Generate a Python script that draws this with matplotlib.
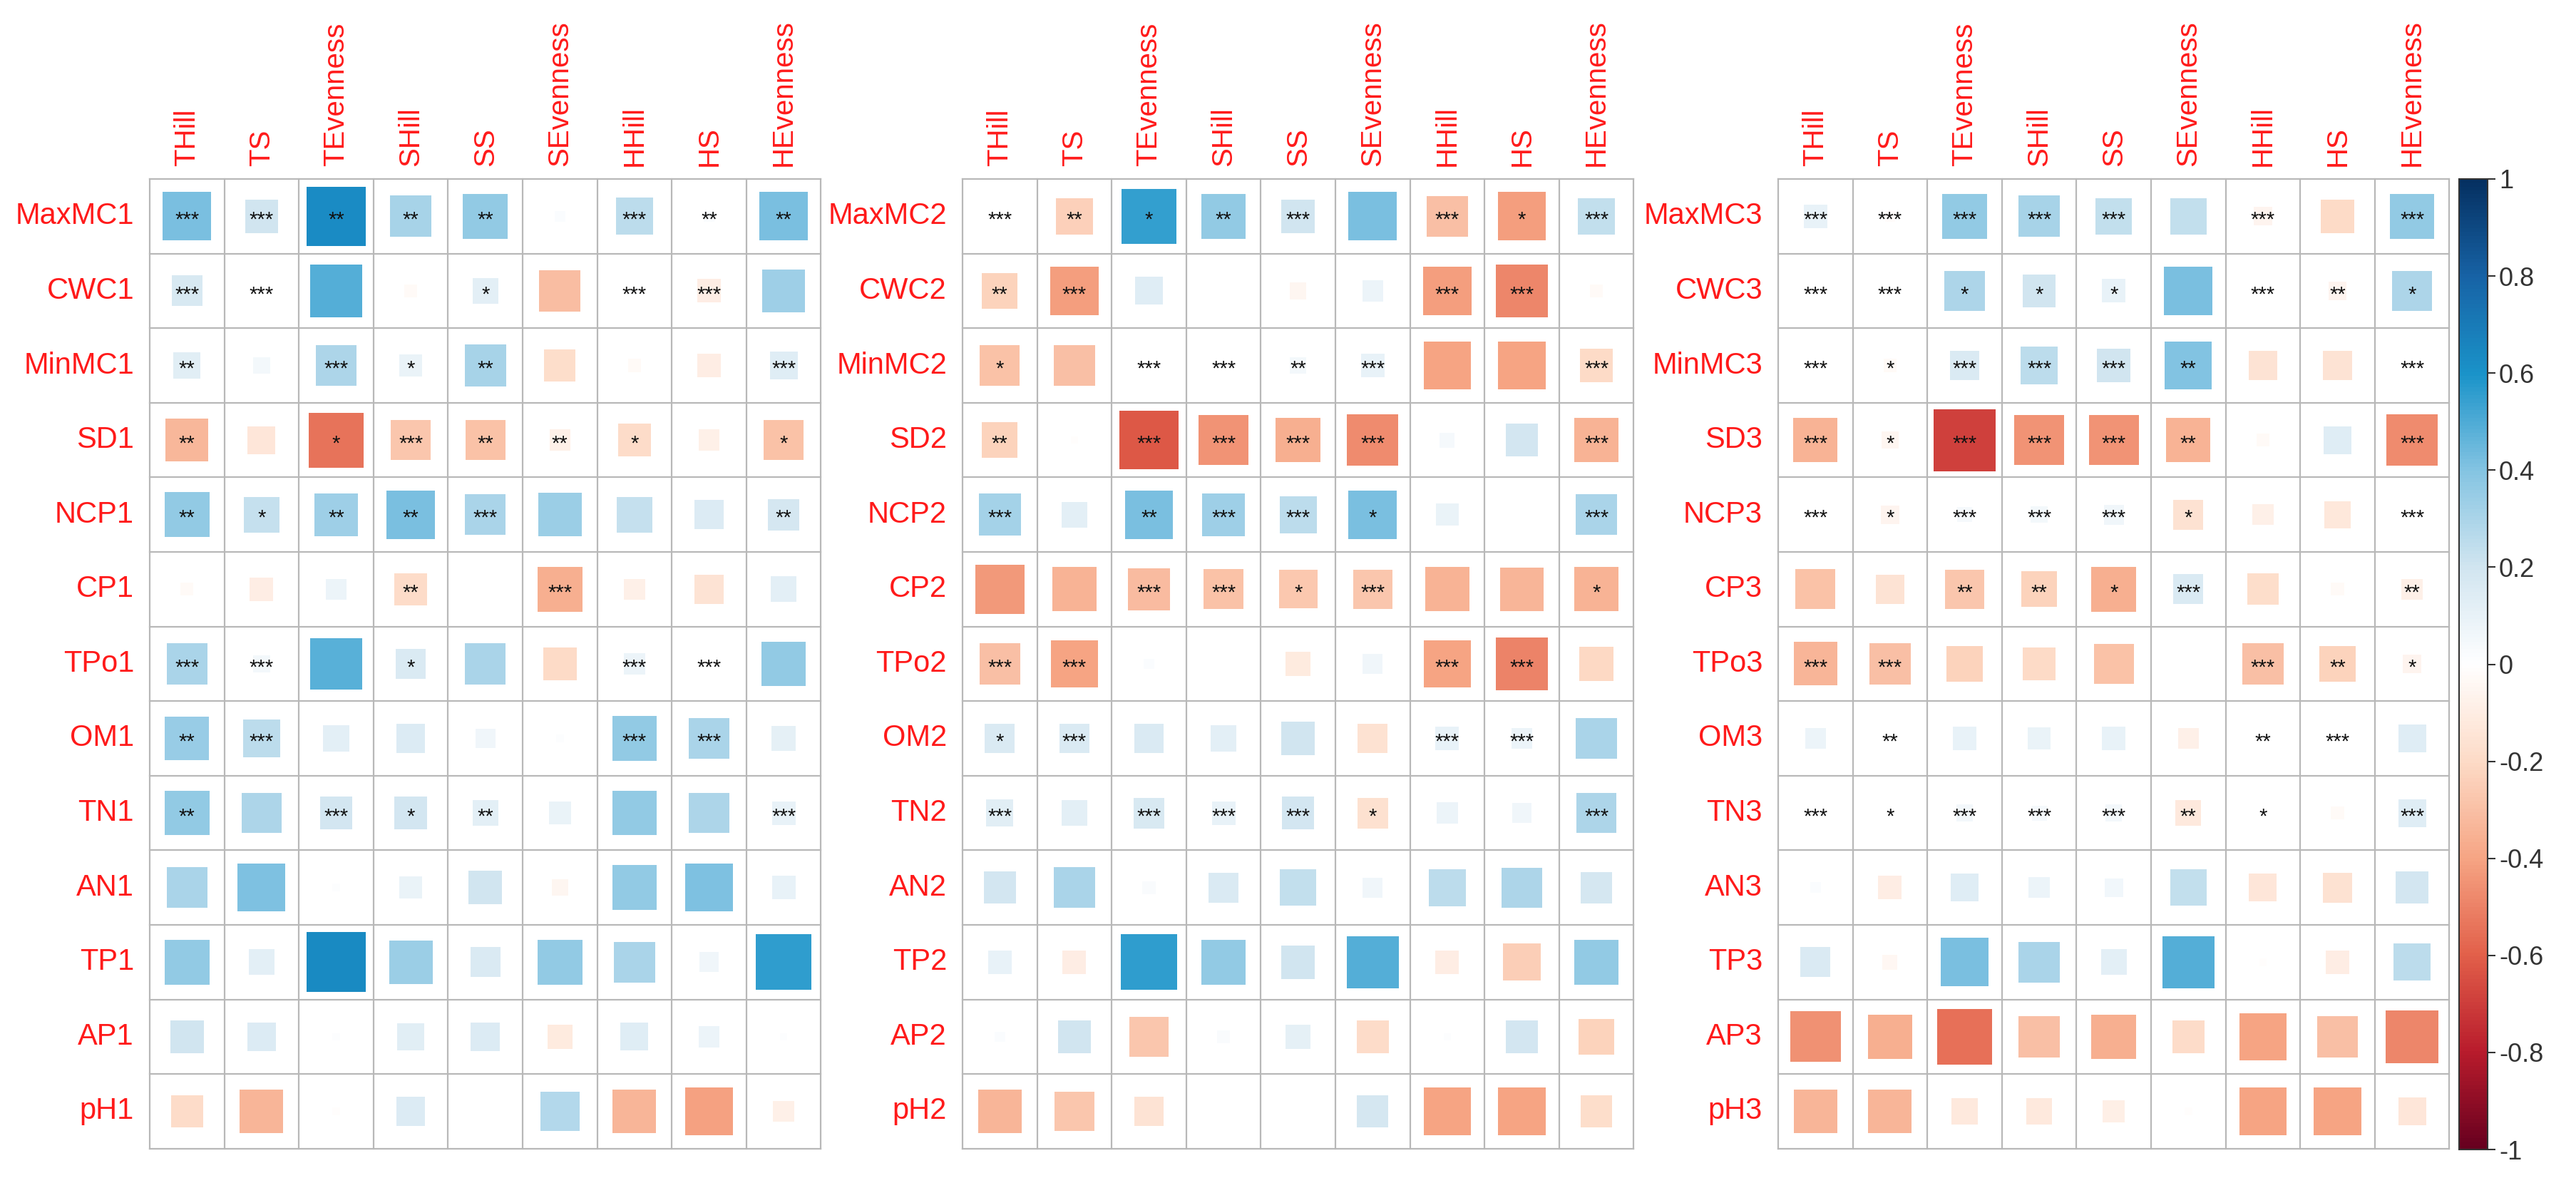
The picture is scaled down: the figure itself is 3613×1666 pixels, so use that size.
import matplotlib
matplotlib.use("Agg")
import matplotlib.pyplot as plt
import numpy as np
from matplotlib.colors import LinearSegmentedColormap, Normalize
from matplotlib.patches import Rectangle
import matplotlib.colorbar as mcolorbar

plt.rcParams['font.family'] = ['Liberation Sans', 'DejaVu Sans']

cols = ["THill", "TS", "TEvenness", "SHill", "SS", "SEvenness", "HHill", "HS", "HEvenness"]
rows_base = ["MaxMC", "CWC", "MinMC", "SD", "NCP", "CP", "TPo", "OM", "TN", "AN", "TP", "AP", "pH"]

# correlation values, period 1
r1 = [
    [0.42, 0.20, 0.63, 0.31, 0.36, 0.02, 0.25, 0.02, 0.42],
    [0.17, 0.00, 0.49, -0.03, 0.12, -0.31, 0.01, -0.10, 0.33],
    [0.13, 0.05, 0.29, 0.09, 0.31, -0.18, -0.03, -0.10, 0.14],
    [-0.33, -0.14, -0.54, -0.28, -0.29, -0.08, -0.19, -0.08, -0.29],
    [0.36, 0.23, 0.33, 0.42, 0.30, 0.34, 0.23, 0.15, 0.18],
    [-0.03, -0.10, 0.08, -0.19, 0.00, -0.36, -0.08, -0.15, 0.12],
    [0.30, 0.05, 0.48, 0.16, 0.30, -0.20, 0.08, 0.00, 0.36],
    [0.35, 0.25, 0.12, 0.15, 0.07, 0.01, 0.36, 0.30, 0.11],
    [0.36, 0.29, 0.19, 0.19, 0.12, 0.09, 0.36, 0.29, 0.10],
    [0.30, 0.41, 0.01, 0.09, 0.20, -0.05, 0.36, 0.41, 0.10],
    [0.36, 0.12, 0.64, 0.34, 0.16, 0.36, 0.30, 0.07, 0.56],
    [0.20, 0.15, 0.01, 0.13, 0.15, -0.11, 0.14, 0.08, 0.01],
    [-0.19, -0.34, -0.01, 0.15, 0.00, 0.28, -0.34, -0.41, -0.08],
]
sig1 = [
    ["***", "***", "**", "**", "**", "", "***", "**", "**"],
    ["***", "***", "", "", "*", "", "***", "***", ""],
    ["**", "", "***", "*", "**", "", "", "", "***"],
    ["**", "", "*", "***", "**", "**", "*", "", "*"],
    ["**", "*", "**", "**", "***", "", "", "", "**"],
    ["", "", "", "**", "", "***", "", "", ""],
    ["***", "***", "", "*", "", "", "***", "***", ""],
    ["**", "***", "", "", "", "", "***", "***", ""],
    ["**", "", "***", "*", "**", "", "", "", "***"],
    ["", "", "", "", "", "", "", "", ""],
    ["", "", "", "", "", "", "", "", ""],
    ["", "", "", "", "", "", "", "", ""],
    ["", "", "", "", "", "", "", "", ""],
]

# period 2
r2 = [
    [0.00, -0.24, 0.55, 0.36, 0.20, 0.42, -0.30, -0.42, 0.24],
    [-0.23, -0.42, 0.14, 0.00, -0.05, 0.08, -0.42, -0.49, -0.03],
    [-0.29, -0.30, 0.00, 0.00, 0.05, 0.10, -0.40, -0.40, -0.20],
    [-0.23, -0.01, -0.62, -0.45, -0.36, -0.47, 0.04, 0.19, -0.35],
    [0.32, 0.12, 0.42, 0.33, 0.25, 0.42, 0.09, 0.00, 0.30],
    [-0.43, -0.35, -0.32, -0.29, -0.27, -0.28, -0.35, -0.34, -0.35],
    [-0.30, -0.40, 0.02, 0.00, -0.11, 0.07, -0.40, -0.50, -0.21],
    [0.16, 0.16, 0.16, 0.12, 0.20, -0.16, 0.10, 0.08, 0.30],
    [0.13, 0.12, 0.17, 0.10, 0.19, -0.17, 0.08, 0.07, 0.29],
    [0.19, 0.30, 0.03, 0.16, 0.24, 0.07, 0.25, 0.29, 0.18],
    [0.10, -0.10, 0.56, 0.36, 0.20, 0.49, -0.10, -0.25, 0.36],
    [0.02, 0.20, -0.28, 0.03, 0.11, -0.19, 0.01, 0.19, -0.23],
    [-0.34, -0.28, -0.15, 0.00, 0.00, 0.18, -0.40, -0.40, -0.18],
]
sig2 = [
    ["***", "**", "*", "**", "***", "", "***", "*", "***"],
    ["**", "***", "", "", "", "", "***", "***", ""],
    ["*", "", "***", "***", "**", "***", "", "", "***"],
    ["**", "", "***", "***", "***", "***", "", "", "***"],
    ["***", "", "**", "***", "***", "*", "", "", "***"],
    ["", "", "***", "***", "*", "***", "", "", "*"],
    ["***", "***", "", "", "", "", "***", "***", ""],
    ["*", "***", "", "", "", "", "***", "***", ""],
    ["***", "", "***", "***", "***", "*", "", "", "***"],
    ["", "", "", "", "", "", "", "", ""],
    ["", "", "", "", "", "", "", "", ""],
    ["", "", "", "", "", "", "", "", ""],
    ["", "", "", "", "", "", "", "", ""],
]

# period 3
r3 = [
    [0.10, -0.02, 0.36, 0.31, 0.24, 0.24, -0.06, -0.20, 0.36],
    [0.00, 0.00, 0.29, 0.20, 0.10, 0.42, 0.00, -0.06, 0.29],
    [0.00, -0.03, 0.16, 0.25, 0.20, 0.40, -0.15, -0.15, 0.00],
    [-0.35, -0.05, -0.69, -0.45, -0.45, -0.35, -0.03, 0.14, -0.47],
    [0.00, -0.06, 0.04, 0.05, 0.07, -0.16, -0.08, -0.13, 0.00],
    [-0.29, -0.15, -0.28, -0.23, -0.36, 0.16, -0.18, -0.03, -0.08],
    [-0.34, -0.30, -0.23, -0.20, -0.29, 0.00, -0.30, -0.23, -0.06],
    [0.08, 0.00, 0.10, 0.09, 0.10, -0.08, 0.00, 0.00, 0.14],
    [0.00, 0.00, 0.05, 0.04, 0.05, -0.12, 0.00, -0.03, 0.14],
    [0.02, -0.10, 0.14, 0.08, 0.06, 0.24, -0.14, -0.16, 0.19],
    [0.16, -0.04, 0.42, 0.30, 0.12, 0.49, -0.01, -0.10, 0.25],
    [-0.46, -0.36, -0.55, -0.30, -0.36, -0.19, -0.40, -0.30, -0.49],
    [-0.34, -0.34, -0.12, -0.12, -0.09, -0.01, -0.40, -0.40, -0.14],
]
sig3 = [
    ["***", "***", "***", "***", "***", "", "***", "", "***"],
    ["***", "***", "*", "*", "*", "", "***", "**", "*"],
    ["***", "*", "***", "***", "***", "**", "", "", "***"],
    ["***", "*", "***", "***", "***", "**", "", "", "***"],
    ["***", "*", "***", "***", "***", "*", "", "", "***"],
    ["", "", "**", "**", "*", "***", "", "", "**"],
    ["***", "***", "", "", "", "", "***", "**", "*"],
    ["", "**", "", "", "", "", "**", "***", ""],
    ["***", "*", "***", "***", "***", "**", "*", "", "***"],
    ["", "", "", "", "", "", "", "", ""],
    ["", "", "", "", "", "", "", "", ""],
    ["", "", "", "", "", "", "", "", ""],
    ["", "", "", "", "", "", "", "", ""],
]

cbar_ticks = [1, 0.8, 0.6, 0.4, 0.2, 0, -0.2, -0.4, -0.6, -0.8, -1]

cmap = LinearSegmentedColormap.from_list("corr", [
    (0.0, "#67001F"), (0.1, "#B91C2C"), (0.2, "#E2604A"), (0.3, "#F6A584"),
    (0.4, "#FDDBC7"), (0.5, "#FFFFFF"), (0.6, "#D1E5F0"), (0.7, "#84C4E2"),
    (0.8, "#1A93C9"), (0.9, "#1763A6"), (1.0, "#053061")])
norm = Normalize(-1, 1)

W, H = 3613, 1666
fig = plt.figure(figsize=(W / 100, H / 100), dpi=100)

grid_top = 251
cell = 104.6
lefts = [210, 1350, 2494]
panels = [(r1, sig1, "1"), (r2, sig2, "2"), (r3, sig3, "3")]

for left, (vals, sigs, suffix) in zip(lefts, panels):
    nr, nc = len(vals), len(cols)
    ax = fig.add_axes([left / W, 1 - (grid_top + nr * cell) / H, nc * cell / W, nr * cell / H])
    ax.set_xlim(0, nc)
    ax.set_ylim(nr, 0)
    ax.axis("off")
    for i in range(nr):
        for j in range(nc):
            v = vals[i][j]
            s = np.sqrt(abs(v))
            ax.add_patch(Rectangle((j + 0.5 - s / 2, i + 0.5 - s / 2), s, s,
                                   facecolor=cmap(norm(v)), edgecolor="none"))
            if sigs[i][j]:
                ax.text(j + 0.5, i + 0.55, sigs[i][j], ha="center", va="center",
                        fontsize=21, color="#111111")
    for k in range(nr + 1):
        ax.plot([0, nc], [k, k], color="#B8B8B8", lw=1.6, clip_on=False)
    for k in range(nc + 1):
        ax.plot([k, k], [0, nr], color="#B8B8B8", lw=1.6, clip_on=False)
    for i, name in enumerate(rows_base):
        ax.text(-0.21, i + 0.5, name + suffix, ha="right", va="center",
                fontsize=30, color="#FF1A1A", clip_on=False)
    for j, name in enumerate(cols):
        ax.text(j + 0.5, -0.17, name, ha="center", va="bottom", rotation=90,
                fontsize=29, color="#FF1A1A", clip_on=False)

cax = fig.add_axes([3449 / W, 1 - 1612 / H, 40 / W, 1361 / H])
cb = mcolorbar.ColorbarBase(cax, cmap=cmap, norm=norm, orientation="vertical")
cb.set_ticks(cbar_ticks)
cb.set_ticklabels([("%g" % t) for t in cbar_ticks])
cb.outline.set_edgecolor("#333333")
cb.outline.set_linewidth(1.5)
cax.tick_params(labelsize=26, length=8, width=1.5, colors="#333333")

fig.savefig("out.png", dpi=100)
